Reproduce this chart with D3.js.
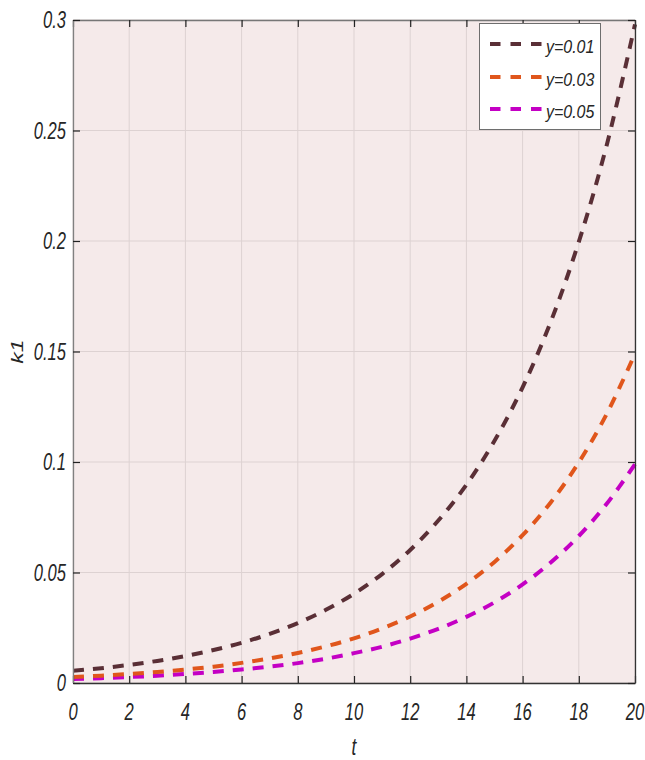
<!DOCTYPE html>
<html>
<head>
<meta charset="utf-8">
<script src="https://cdn.jsdelivr.net/npm/d3@7"></script>
<style>
  html, body { margin: 0; padding: 0; background: #ffffff; }
  svg { display: block; }
  text { font-family: "Liberation Sans", Arial, sans-serif; font-style: italic; fill: #262626; }
</style>
</head>
<body>
<svg id="chart" width="645" height="760"></svg>
<script>
// ---- data ----
const tValues = [0,1,2,3,4,5,6,7,8,9,10,11,12,13,14,15,16,17,18,19,20];
const seriesY001 = [0.0055,0.0067,0.0082,0.0100,0.0122,0.0149,0.0182,0.0222,0.0271,0.0331,0.0404,0.0493,0.0602,0.0735,0.0897,0.1096,0.1338,0.1634,0.1996,0.2437,0.2980];
const seriesY003 = [0.0027,0.0033,0.0041,0.0050,0.0061,0.0074,0.0091,0.0111,0.0136,0.0166,0.0202,0.0247,0.0301,0.0368,0.0449,0.0548,0.0669,0.0817,0.0998,0.1219,0.1490];
const seriesY005 = [0.0018,0.0022,0.0027,0.0033,0.0041,0.0050,0.0061,0.0074,0.0090,0.0110,0.0135,0.0164,0.0201,0.0245,0.0299,0.0365,0.0446,0.0545,0.0665,0.0812,0.0990];
const seriesNames = ["y=0.01", "y=0.03", "y=0.05"];
const xTicks = [0,2,4,6,8,10,12,14,16,18,20];
const yTicks = [0,0.05,0.1,0.15,0.2,0.25,0.3];
const yTickLabels = ["0","0.05","0.1","0.15","0.2","0.25","0.3"];

const colors = ["#5a2f36", "#e0561c", "#c400c4"];
const allSeries = [seriesY001, seriesY003, seriesY005];

const svg = d3.select("#chart");
const L = 73, R = 635, T = 20, B = 683;
const x = d3.scaleLinear().domain([0, 20]).range([L, R]);
const y = d3.scaleLinear().domain([0, 0.3]).range([B, T]);

// background
svg.append("rect").attr("x", L).attr("y", T).attr("width", R - L).attr("height", B - T)
  .attr("fill", "#f5eaea");

// grid
const grid = svg.append("g").attr("stroke", "#ddd2d2").attr("stroke-width", 1);
xTicks.forEach(v => grid.append("line").attr("x1", x(v)).attr("x2", x(v)).attr("y1", T).attr("y2", B));
yTicks.forEach(v => grid.append("line").attr("y1", y(v)).attr("y2", y(v)).attr("x1", L).attr("x2", R));

// curves
svg.append("defs").append("clipPath").attr("id", "clip")
  .append("rect").attr("x", L).attr("y", T - 2).attr("width", R - L + 2).attr("height", B - T + 2);
const line = d3.line().x((d, i) => x(tValues[i])).y(d => y(d)).curve(d3.curveCatmullRom);
const curves = svg.append("g").attr("clip-path", "url(#clip)");
allSeries.slice().reverse().forEach((s, j) => {
  const idx = allSeries.length - 1 - j;
  curves.append("path").attr("d", line(s)).attr("fill", "none")
    .attr("stroke", colors[idx]).attr("stroke-width", 4)
    .attr("stroke-dasharray", "11,9");
});

// axes with inward ticks
const tickLen = 7;
const axG = svg.append("g");
const xAxis = d3.axisBottom(x).tickValues(xTicks).tickSizeInner(-tickLen).tickSizeOuter(0);
const gx = axG.append("g").attr("transform", `translate(0,${B})`).call(xAxis);
gx.select(".domain").attr("stroke", "#333").attr("stroke-width", 1.3);
gx.selectAll(".tick line").attr("stroke", "#222").attr("stroke-width", 1.2);
gx.selectAll(".tick text").remove();
const gxt = axG.append("g").attr("transform", `translate(0,${T})`)
  .call(d3.axisTop(x).tickValues(xTicks).tickSizeInner(-tickLen).tickSizeOuter(0));
gxt.select(".domain").attr("stroke", "#777").attr("stroke-width", 1.3);
gxt.selectAll(".tick line").attr("stroke", "#222").attr("stroke-width", 1.2);
gxt.selectAll(".tick text").remove();
const gy = axG.append("g").attr("transform", `translate(${L},0)`)
  .call(d3.axisLeft(y).tickValues(yTicks).tickSizeInner(-tickLen).tickSizeOuter(0));
gy.select(".domain").attr("stroke", "#808080").attr("stroke-width", 1.3);
gy.selectAll(".tick line").attr("stroke", "#222").attr("stroke-width", 1.2);
gy.selectAll(".tick text").remove();
const gyr = axG.append("g").attr("transform", `translate(${R},0)`)
  .call(d3.axisRight(y).tickValues(yTicks).tickSizeInner(-tickLen).tickSizeOuter(0));
gyr.select(".domain").attr("stroke", "#333").attr("stroke-width", 1.3);
gyr.selectAll(".tick line").attr("stroke", "#222").attr("stroke-width", 1.2);
gyr.selectAll(".tick text").remove();

// tick labels (condensed italic)
const sx = 0.72;
xTicks.forEach(v => {
  svg.append("text").attr("transform", `translate(${x(v)},${720}) scale(${sx},1)`)
    .attr("text-anchor", "middle").attr("font-size", 23).text(v);
});
yTicks.forEach((v, i) => {
  svg.append("text").attr("transform", `translate(${L - 7},${y(v) + 8}) scale(${sx},1)`)
    .attr("text-anchor", "end").attr("font-size", 23).text(yTickLabels[i]);
});

// axis titles
svg.append("text").attr("transform", `translate(${(L + R) / 2},${755}) scale(${sx},1)`)
  .attr("text-anchor", "middle").attr("font-size", 24).text("t");
svg.append("text").attr("transform", `translate(${23},${(T + B) / 2}) scale(${sx},1) rotate(-90)`)
  .attr("text-anchor", "middle").attr("font-size", 23).text("k1");

// legend
const lg = svg.append("g");
lg.append("rect").attr("x", 479.5).attr("y", 23.5).attr("width", 121).attr("height", 106)
  .attr("fill", "#ffffff").attr("stroke", "#6e6e6e").attr("stroke-width", 1);
const rowY = [44, 77, 109];
seriesNames.forEach((name, i) => {
  lg.append("line").attr("x1", 490).attr("x2", 542).attr("y1", rowY[i]).attr("y2", rowY[i])
    .attr("stroke", colors[i]).attr("stroke-width", 4).attr("stroke-dasharray", "10.5,10");
  lg.append("text").attr("transform", `translate(${546},${rowY[i] + 9}) scale(0.84,1)`)
    .attr("font-size", 19).text(name);
});
</script>
</body>
</html>
